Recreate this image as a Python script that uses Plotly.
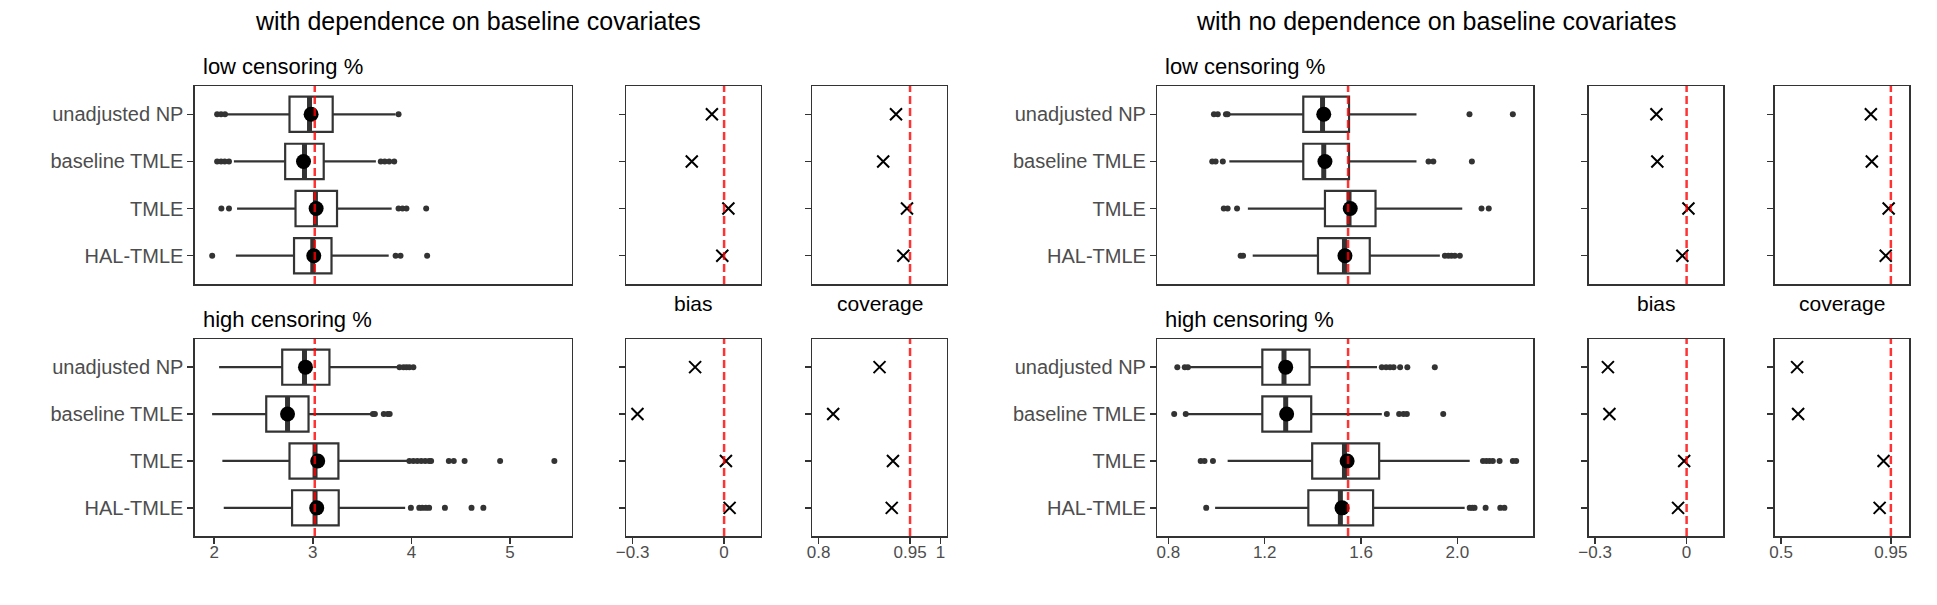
import plotly.graph_objects as go

W, H = 1937, 605

methods = ["unadjusted NP", "baseline TMLE", "TMLE", "HAL-TMLE"]
ypos = [4, 3, 2, 1]

truth_dep = 3.02
truth_nodep = 1.546

# ---- box statistics: with dependence, low censoring ----
dep_low_q1 = [2.764, 2.72, 2.825, 2.81]
dep_low_med = [2.967, 2.916, 3.027, 3.0]
dep_low_q3 = [3.202, 3.111, 3.246, 3.19]
dep_low_lo = [2.13, 2.20, 2.232, 2.22]
dep_low_hi = [3.84, 3.64, 3.80, 3.77]
dep_low_mean = [2.983, 2.906, 3.034, 3.01]
dep_low_out = [[2.03, 2.07, 2.11, 3.87],
               [2.03, 2.07, 2.107, 2.15, 3.69, 3.73, 3.775, 3.826],
               [2.073, 2.15, 3.87, 3.91, 3.95, 4.15],
               [1.98, 3.84, 3.89, 4.16]]

# ---- with dependence, high censoring ----
dep_high_q1 = [2.69, 2.528, 2.764, 2.79]
dep_high_med = [2.916, 2.744, 3.023, 3.023]
dep_high_q3 = [3.169, 2.957, 3.26, 3.263]
dep_high_lo = [2.05, 1.979, 2.083, 2.097]
dep_high_hi = [3.86, 3.59, 3.96, 3.937]
dep_high_mean = [2.926, 2.744, 3.05, 3.04]
dep_high_out = [[3.88, 3.92, 3.95, 3.98, 4.02],
                [3.61, 3.63, 3.72, 3.76, 3.78],
                [3.98, 4.02, 4.06, 4.1, 4.14, 4.18, 4.2, 4.38, 4.43, 4.54, 4.90, 5.45],
                [3.995, 4.08, 4.11, 4.146, 4.18, 4.34, 4.61, 4.73]]

# ---- no dependence, low censoring ----
nodep_low_q1 = [1.36, 1.36, 1.45, 1.421]
nodep_low_med = [1.44, 1.445, 1.55, 1.531]
nodep_low_q3 = [1.55, 1.55, 1.66, 1.636]
nodep_low_lo = [1.053, 1.053, 1.13, 1.15]
nodep_low_hi = [1.83, 1.83, 2.02, 1.927]
nodep_low_mean = [1.445, 1.45, 1.555, 1.533]
nodep_low_out = [[0.989, 1.005, 1.039, 1.046, 2.05, 2.23],
                 [0.982, 0.996, 1.026, 1.88, 1.90, 2.06],
                 [1.03, 1.046, 1.085, 2.10, 2.13],
                 [1.10, 1.11, 1.948, 1.962, 1.975, 1.989, 2.01]]

# ---- no dependence, high censoring ----
nodep_high_q1 = [1.19, 1.19, 1.397, 1.381]
nodep_high_med = [1.28, 1.287, 1.531, 1.514]
nodep_high_q3 = [1.386, 1.393, 1.675, 1.65]
nodep_high_lo = [0.888, 0.878, 1.046, 0.994]
nodep_high_hi = [1.666, 1.686, 2.051, 2.03]
nodep_high_mean = [1.287, 1.291, 1.542, 1.521]
nodep_high_out = [[0.837, 0.868, 0.881, 1.686, 1.704, 1.72, 1.735, 1.762, 1.792, 1.906],
                  [0.824, 0.872, 1.707, 1.758, 1.776, 1.79, 1.941],
                  [0.934, 0.95, 0.985, 2.106, 2.12, 2.133, 2.147, 2.175, 2.23, 2.244],
                  [0.957, 2.051, 2.062, 2.071, 2.117, 2.178, 2.195]]

# ---- bias and coverage ----
bias_dep_low = [-0.040, -0.106, 0.014, -0.006]
bias_dep_high = [-0.095, -0.284, 0.006, 0.018]
bias_nodep_low = [-0.099, -0.096, 0.006, -0.014]
bias_nodep_high = [-0.258, -0.253, -0.008, -0.028]
cov_dep_low = [0.927, 0.906, 0.945, 0.939]
cov_dep_high = [0.900, 0.824, 0.922, 0.920]
cov_nodep_low = [0.868, 0.872, 0.941, 0.929]
cov_nodep_high = [0.566, 0.570, 0.920, 0.904]

bias_range = [-0.32, 0.12]
bias_ticks = [-0.3, 0]
bias_ticktext = ["\u22120.3", "0"]
cov_dep_range = [0.79, 1.01]
cov_dep_ticks = [0.8, 0.95, 1]
cov_nodep_range = [0.475, 1.025]
cov_nodep_ticks = [0.5, 0.95]
box_dep_range = [1.805, 5.627]
box_dep_ticks = [2, 3, 4, 5]
box_nodep_range = [0.7546, 2.315]
box_nodep_ticks = [0.8, 1.2, 1.6, 2.0]
box_nodep_ticktext = ["0.8", "1.2", "1.6", "2.0"]

FONT = "Liberation Sans, Arial, Helvetica, sans-serif"
DARK = "#333333"
GREY = "#4D4D4D"
RED = "rgba(255,0,0,0.8)"

# layout in pixels
cols_px = {("dep", "box"): (185, 564), ("dep", "bias"): (619, 754), ("dep", "cov"): (806, 941),
           ("nodep", "box"): (1153, 1531), ("nodep", "bias"): (1587, 1722), ("nodep", "cov"): (1774, 1909)}
rows_px = {"low": (86, 284), "high": (339, 536)}

def xf(px):
    return px / W

def yf(py):
    return 1 - py / H

fig = go.Figure()
layout = {}
shapes = []
annotations = []

box_data = {
    ("dep", "low"): (dep_low_q1, dep_low_med, dep_low_q3, dep_low_lo, dep_low_hi, dep_low_mean, dep_low_out),
    ("dep", "high"): (dep_high_q1, dep_high_med, dep_high_q3, dep_high_lo, dep_high_hi, dep_high_mean, dep_high_out),
    ("nodep", "low"): (nodep_low_q1, nodep_low_med, nodep_low_q3, nodep_low_lo, nodep_low_hi, nodep_low_mean, nodep_low_out),
    ("nodep", "high"): (nodep_high_q1, nodep_high_med, nodep_high_q3, nodep_high_lo, nodep_high_hi, nodep_high_mean, nodep_high_out),
}
bias_data = {("dep", "low"): bias_dep_low, ("dep", "high"): bias_dep_high,
             ("nodep", "low"): bias_nodep_low, ("nodep", "high"): bias_nodep_high}
cov_data = {("dep", "low"): cov_dep_low, ("dep", "high"): cov_dep_high,
            ("nodep", "low"): cov_nodep_low, ("nodep", "high"): cov_nodep_high}

n = 0
for grp in ["dep", "nodep"]:
    for row in ["low", "high"]:
        for kind in ["box", "bias", "cov"]:
            n += 1
            xa = "x" if n == 1 else f"x{n}"
            ya = "y" if n == 1 else f"y{n}"
            xk = "xaxis" if n == 1 else f"xaxis{n}"
            yk = "yaxis" if n == 1 else f"yaxis{n}"
            x0p, x1p = cols_px[(grp, kind)]
            y0p, y1p = rows_px[row]
            bottom = row == "high"
            if kind == "box":
                rng = box_dep_range if grp == "dep" else box_nodep_range
                tv = box_dep_ticks if grp == "dep" else box_nodep_ticks
                tt = [str(t) for t in box_dep_ticks] if grp == "dep" else box_nodep_ticktext
                truth = truth_dep if grp == "dep" else truth_nodep
            elif kind == "bias":
                rng, tv, tt, truth = bias_range, bias_ticks, bias_ticktext, 0
            else:
                rng = cov_dep_range if grp == "dep" else cov_nodep_range
                tv = cov_dep_ticks if grp == "dep" else cov_nodep_ticks
                tt = [str(t) for t in tv]
                truth = 0.95
            layout[xk] = dict(domain=[xf(x0p), xf(x1p)], anchor=ya, range=rng,
                              tickvals=tv, ticktext=tt, showticklabels=bottom,
                              ticks="outside" if bottom else "", ticklen=6, tickwidth=1.5, tickcolor=DARK,
                              ticklabelstandoff=-6,
                              showline=True, mirror=True, linecolor=DARK, linewidth=1.5,
                              showgrid=False, zeroline=False, fixedrange=True,
                              tickfont=dict(size=17, color=GREY, family=FONT))
            layout[yk] = dict(domain=[yf(y1p), yf(y0p)], anchor=xa, range=[0.4, 4.6],
                              tickvals=ypos, ticktext=methods, showticklabels=(kind == "box"),
                              ticks="outside", ticklen=6, tickwidth=1.5, tickcolor=DARK,
                              showline=True, mirror=True, linecolor=DARK, linewidth=1.5,
                              showgrid=False, zeroline=False, fixedrange=True,
                              tickfont=dict(size=20, color=GREY, family=FONT))
            if kind == "box":
                q1, med, q3, lo, hi, mean, outs = box_data[(grp, row)]
                fig.add_trace(go.Box(orientation="h", y=ypos, q1=q1, median=med, q3=q3,
                                     lowerfence=lo, upperfence=hi, width=0.75, whiskerwidth=0,
                                     boxpoints=False, fillcolor="white",
                                     line=dict(color=DARK, width=2.2),
                                     xaxis=xa, yaxis=ya, showlegend=False, hoverinfo="skip"))
                ox, oy = [], []
                for p, vals in zip(ypos, outs):
                    ox += vals
                    oy += [p] * len(vals)
                fig.add_trace(go.Scatter(x=ox, y=oy, mode="markers",
                                         marker=dict(size=6, color=DARK),
                                         xaxis=xa, yaxis=ya, showlegend=False, hoverinfo="skip"))
                mx, my = [], []
                for p, m in zip(ypos, med):
                    mx += [m, m, None]
                    my += [p - 0.375, p + 0.375, None]
                fig.add_trace(go.Scatter(x=mx, y=my, mode="lines",
                                         line=dict(color=DARK, width=5),
                                         xaxis=xa, yaxis=ya, showlegend=False, hoverinfo="skip"))
                fig.add_trace(go.Scatter(x=mean, y=ypos, mode="markers",
                                         marker=dict(size=15, color="black"),
                                         xaxis=xa, yaxis=ya, showlegend=False, hoverinfo="skip"))
            else:
                vals = bias_data[(grp, row)] if kind == "bias" else cov_data[(grp, row)]
                fig.add_trace(go.Scatter(x=vals, y=ypos, mode="markers",
                                         marker=dict(symbol="x-thin", size=12,
                                                     line=dict(width=2, color="black")),
                                         xaxis=xa, yaxis=ya, showlegend=False, hoverinfo="skip"))
            shapes.append(dict(type="line", xref=xa, yref=f"{ya} domain", x0=truth, x1=truth,
                               y0=0, y1=1, layer="above",
                               line=dict(color=RED, width=2.5, dash="8px,4px")))
            if kind == "box":
                annotations.append(dict(text=f"{row} censoring %", x=xf(x0p + 6), y=yf(y0p - 20),
                                        xref="paper", yref="paper", xanchor="left", yanchor="middle",
                                        showarrow=False, font=dict(size=22, color="black", family=FONT)))
            elif row == "high":
                annotations.append(dict(text="bias" if kind == "bias" else "coverage",
                                        x=xf((x0p + x1p) / 2), y=yf(303),
                                        xref="paper", yref="paper", xanchor="center", yanchor="middle",
                                        showarrow=False, font=dict(size=21, color="black", family=FONT)))

annotations.append(dict(text="with dependence on baseline covariates", x=xf(470), y=yf(21),
                        xref="paper", yref="paper", xanchor="center", yanchor="middle",
                        showarrow=False, font=dict(size=25, color="black", family=FONT)))
annotations.append(dict(text="with no dependence on baseline covariates", x=xf(1434), y=yf(21),
                        xref="paper", yref="paper", xanchor="center", yanchor="middle",
                        showarrow=False, font=dict(size=25, color="black", family=FONT)))

fig.update_layout(width=W, height=H, margin=dict(l=0, r=0, t=0, b=0),
                  paper_bgcolor="white", plot_bgcolor="white",
                  shapes=shapes, annotations=annotations, hovermode=False,
                  font=dict(family=FONT), **layout)

fig.write_html("out.html", config={"displayModeBar": False, "staticPlot": True},
               post_script="document.body.style.margin='0px';document.body.style.overflow='hidden';")
